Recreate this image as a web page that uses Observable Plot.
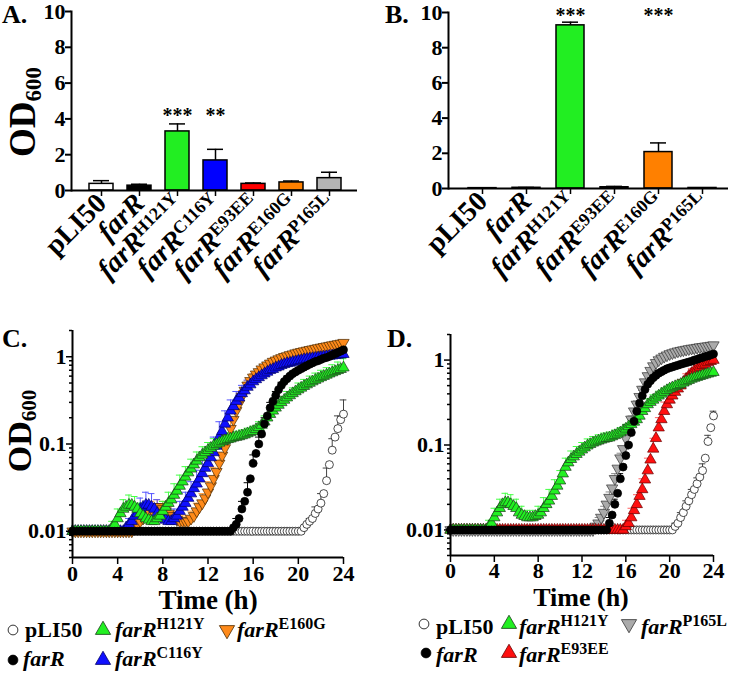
<!DOCTYPE html>
<html><head><meta charset="utf-8">
<script src="https://cdn.jsdelivr.net/npm/d3@7"></script>
<script src="https://cdn.jsdelivr.net/npm/@observablehq/plot@0.6"></script>
<style>
body{margin:0;background:#fff;}
#root{position:relative;width:733px;height:675px;overflow:hidden;font-family:"Liberation Serif","Times New Roman",serif;font-weight:bold;color:#000;}
#root > svg{position:absolute;}
</style></head><body><div id="root"></div><script>
// ---------- Bar data ----------
const catsA = ["pLI50","farR","farR|H121Y","farR|C116Y","farR|E93EE","farR|E160G","farR|P165L"];
const meanA = [0.37,0.27,3.3,1.68,0.37,0.45,0.69];
const sdA   = [0.18,0.08,0.42,0.62,0.05,0.08,0.33];
const sigA  = ["","","***","**","","",""];
const sigYA = 4.2;
const catsB = ["pLI50","farR","farR|H121Y","farR|E93EE","farR|E160G","farR|P165L"];
const meanB = [0.02,0.04,9.27,0.07,2.07,0.03];
const sdB   = [0.01,0.02,0.18,0.05,0.52,0.01];
const sigB  = ["","","***","","***",""];
const sigYB = 9.8;
const barTicks = [0,2,4,6,8,10];
// ---------- Growth data: OD600 every 0.25 h (0..24 h); SD every 0.5 h ----------
const times = d3.range(0, 24.001, 0.25);
const errTimes = d3.range(0, 24.001, 0.5);
const timeTicks = [0,4,8,12,16,20,24];
const majorTicks = [0.01,0.1,1];
const minorTicks = [0.005,0.006,0.007,0.008,0.009,0.02,0.03,0.04,0.05,0.06,0.07,0.08,0.09,0.2,0.3,0.4,0.5,0.6,0.7,0.8,0.9,2];

const cPLI50 = [
 0.01,0.01,0.01,0.01,0.01,0.01,0.01,0.01,
 0.01,0.01,0.01,0.01,0.01,0.01,0.01,0.01,
 0.01,0.01,0.01,0.01,0.01,0.01,0.01,0.01,
 0.01,0.01,0.01,0.01,0.01,0.01,0.01,0.01,
 0.01,0.01,0.01,0.01,0.01,0.01,0.01,0.01,
 0.01,0.01,0.01,0.01,0.01,0.01,0.01,0.01,
 0.01,0.01,0.01,0.01,0.01,0.01,0.01,0.01,
 0.01,0.01,0.01,0.01,0.01,0.01,0.01,0.01,
 0.01,0.01,0.01,0.01,0.01,0.01,0.01,0.01,
 0.01,0.01,0.01,0.01,0.01,0.01,0.01,0.01,
 0.01,0.01,0.011,0.012,0.013,0.014,0.016,0.018,
 0.021,0.027,0.038,0.058,0.085,0.12,0.15,0.19,
 0.22];
const cPLI50Err = [
 0,0,0,0,0,0,0,0,0,0,
 0,0,0,0,0,0,0,0,0,0,
 0,0,0,0,0,0,0,0,0,0,
 0,0,0,0,0,0,0,0,0,0,
 0,0,0.001,0.003,0.006,0.015,0.03,0.06,0.1];
const cFarR = [
 0.01,0.01,0.01,0.01,0.01,0.01,0.01,0.01,
 0.01,0.01,0.01,0.01,0.01,0.01,0.01,0.01,
 0.01,0.01,0.01,0.01,0.01,0.01,0.01,0.01,
 0.01,0.01,0.01,0.01,0.01,0.01,0.01,0.01,
 0.01,0.01,0.01,0.01,0.01,0.01,0.01,0.01,
 0.01,0.01,0.01,0.01,0.01,0.01,0.01,0.01,
 0.01,0.01,0.01,0.01,0.01,0.01,0.01,0.01,
 0.01,0.011,0.012,0.014,0.018,0.022,0.028,0.04,
 0.06,0.078,0.1,0.13,0.17,0.21,0.26,0.31,
 0.36,0.42,0.47,0.52,0.56,0.6,0.64,0.67,
 0.7,0.73,0.76,0.79,0.82,0.85,0.88,0.9,
 0.93,0.96,0.98,1.01,1.05,1.08,1.12,1.16,
 1.2];
const cFarRErr = [
 0,0,0,0,0,0,0,0,0,0,
 0,0,0,0,0,0,0,0,0,0,
 0,0,0,0,0,0,0,0,0,0.002,
 0.004,0.008,0.015,0.02,0.03,0.04,0.04,0.04,0.04,0.04,
 0.04,0.04,0.04,0.04,0.04,0.04,0.05,0.05,0.05];
const cH121Y = [
 0.01,0.01,0.01,0.01,0.01,0.01,0.01,0.01,
 0.01,0.01,0.01,0.01,0.01,0.01,0.011,0.012,
 0.014,0.016,0.018,0.019,0.02,0.02,0.019,0.018,
 0.016,0.015,0.014,0.0135,0.013,0.013,0.014,0.015,
 0.017,0.019,0.021,0.023,0.026,0.029,0.033,0.037,
 0.042,0.047,0.052,0.058,0.064,0.07,0.075,0.08,
 0.085,0.09,0.095,0.099,0.103,0.107,0.11,0.113,
 0.115,0.118,0.12,0.122,0.125,0.128,0.132,0.136,
 0.14,0.147,0.155,0.165,0.18,0.2,0.22,0.24,
 0.26,0.28,0.3,0.32,0.34,0.36,0.38,0.4,
 0.42,0.44,0.46,0.48,0.5,0.52,0.54,0.56,
 0.58,0.6,0.62,0.64,0.66,0.68,0.7,0.72,
 0.75];
const cH121YErr = [
 0,0,0,0,0,0,0,0.002,0.004,0.005,
 0.006,0.006,0.005,0.004,0.004,0.004,0.005,0.007,0.009,0.011,
 0.013,0.015,0.017,0.018,0.019,0.02,0.02,0.02,0.02,0.02,
 0.02,0.02,0.02,0.025,0.03,0.04,0.05,0.05,0.06,0.06,
 0.08,0.09,0.1,0.11,0.12,0.13,0.15,0.17,0.2];
const cC116Y = [
 0.01,0.01,0.01,0.01,0.01,0.01,0.01,0.01,
 0.01,0.01,0.01,0.01,0.01,0.01,0.01,0.01,
 0.01,0.01,0.01,0.011,0.012,0.013,0.015,0.016,
 0.018,0.019,0.02,0.02,0.019,0.018,0.016,0.015,
 0.014,0.0135,0.013,0.013,0.014,0.015,0.017,0.019,
 0.021,0.024,0.027,0.031,0.035,0.04,0.046,0.053,
 0.06,0.07,0.08,0.095,0.12,0.14,0.17,0.2,
 0.24,0.27,0.31,0.34,0.38,0.41,0.45,0.48,
 0.52,0.55,0.58,0.61,0.64,0.67,0.7,0.72,
 0.75,0.77,0.8,0.82,0.84,0.85,0.87,0.88,
 0.9,0.91,0.93,0.94,0.95,0.96,0.97,0.98,
 0.99,1.0,1.01,1.02,1.03,1.04,1.05,1.06,
 1.07];
const cC116YErr = [
 0,0,0,0,0,0,0,0,0,0,
 0.002,0.004,0.006,0.008,0.008,0.007,0.005,0.004,0.004,0.005,
 0.007,0.01,0.015,0.02,0.03,0.04,0.06,0.07,0.08,0.09,
 0.09,0.09,0.09,0.08,0.08,0.07,0.07,0.06,0.06,0.06,
 0.06,0.06,0.06,0.06,0.06,0.06,0.06,0.06,0.06];
const cE160G = [
 0.01,0.01,0.01,0.01,0.01,0.01,0.01,0.01,
 0.01,0.01,0.01,0.01,0.01,0.01,0.01,0.01,
 0.01,0.01,0.01,0.01,0.01,0.01,0.011,0.012,
 0.013,0.014,0.016,0.017,0.018,0.019,0.019,0.019,
 0.018,0.017,0.016,0.015,0.014,0.0135,0.013,0.013,
 0.013,0.013,0.014,0.015,0.017,0.019,0.021,0.024,
 0.028,0.033,0.04,0.048,0.06,0.074,0.09,0.115,
 0.15,0.19,0.24,0.29,0.35,0.41,0.47,0.53,
 0.58,0.63,0.67,0.72,0.76,0.8,0.84,0.88,
 0.91,0.94,0.97,1.0,1.02,1.05,1.07,1.1,
 1.12,1.14,1.16,1.18,1.2,1.22,1.24,1.26,
 1.28,1.3,1.32,1.34,1.36,1.38,1.4,1.42,
 1.45];
const cE160GErr = [
 0,0,0,0,0,0,0,0,0,0,
 0,0.001,0.002,0.003,0.004,0.004,0.004,0.003,0.003,0.002,
 0.002,0.003,0.004,0.006,0.009,0.014,0.02,0.03,0.04,0.05,
 0.06,0.06,0.06,0.05,0.05,0.05,0.05,0.05,0.05,0.05,
 0.05,0.05,0.05,0.05,0.05,0.05,0.05,0.05,0.05];

const dPLI50 = [
 0.01,0.01,0.01,0.01,0.01,0.01,0.01,0.01,
 0.01,0.01,0.01,0.01,0.01,0.01,0.01,0.01,
 0.01,0.01,0.01,0.01,0.01,0.01,0.01,0.01,
 0.01,0.01,0.01,0.01,0.01,0.01,0.01,0.01,
 0.01,0.01,0.01,0.01,0.01,0.01,0.01,0.01,
 0.01,0.01,0.01,0.01,0.01,0.01,0.01,0.01,
 0.01,0.01,0.01,0.01,0.01,0.01,0.01,0.01,
 0.01,0.01,0.01,0.01,0.01,0.01,0.01,0.01,
 0.01,0.01,0.01,0.01,0.01,0.01,0.01,0.01,
 0.01,0.01,0.01,0.01,0.01,0.01,0.01,0.01,
 0.01,0.01,0.011,0.012,0.014,0.016,0.019,0.022,
 0.026,0.03,0.035,0.042,0.05,0.07,0.11,0.16,
 0.22];
const dPLI50Err = [
 0,0,0,0,0,0,0,0,0,0,
 0,0,0,0,0,0,0,0,0,0,
 0,0,0,0,0,0,0,0,0,0,
 0,0,0,0,0,0,0,0,0,0,
 0,0.001,0.002,0.003,0.004,0.006,0.01,0.02,0.03];
const dFarR = [
 0.01,0.01,0.01,0.01,0.01,0.01,0.01,0.01,
 0.01,0.01,0.01,0.01,0.01,0.01,0.01,0.01,
 0.01,0.01,0.01,0.01,0.01,0.01,0.01,0.01,
 0.01,0.01,0.01,0.01,0.01,0.01,0.01,0.01,
 0.01,0.01,0.01,0.01,0.01,0.01,0.01,0.01,
 0.01,0.01,0.01,0.01,0.01,0.01,0.01,0.01,
 0.01,0.01,0.01,0.01,0.01,0.01,0.01,0.01,
 0.01,0.01,0.012,0.015,0.02,0.027,0.04,0.055,
 0.075,0.1,0.14,0.19,0.25,0.31,0.38,0.45,
 0.52,0.57,0.62,0.66,0.7,0.73,0.76,0.79,
 0.81,0.83,0.85,0.87,0.89,0.91,0.93,0.95,
 0.97,1.0,1.02,1.05,1.07,1.1,1.12,1.15,
 1.18];
const dFarRErr = [
 0,0,0,0,0,0,0,0,0,0,
 0,0,0,0,0,0,0,0,0,0,
 0,0,0,0,0,0,0,0,0,0.002,
 0.003,0.006,0.015,0.03,0.05,0.06,0.06,0.05,0.05,0.05,
 0.05,0.05,0.05,0.05,0.05,0.05,0.05,0.05,0.05];
const dH121Y = [
 0.01,0.01,0.01,0.01,0.01,0.01,0.01,0.01,
 0.01,0.01,0.01,0.01,0.01,0.01,0.011,0.012,
 0.014,0.016,0.018,0.02,0.021,0.021,0.02,0.019,
 0.018,0.016,0.015,0.0145,0.014,0.014,0.014,0.0145,
 0.015,0.016,0.018,0.02,0.022,0.025,0.029,0.033,
 0.038,0.046,0.055,0.062,0.068,0.073,0.078,0.083,
 0.088,0.093,0.098,0.102,0.106,0.109,0.112,0.115,
 0.118,0.12,0.122,0.126,0.13,0.135,0.14,0.147,
 0.155,0.165,0.175,0.187,0.2,0.22,0.25,0.27,
 0.3,0.32,0.34,0.36,0.38,0.4,0.42,0.44,
 0.46,0.475,0.49,0.505,0.52,0.54,0.56,0.58,
 0.6,0.615,0.63,0.645,0.66,0.675,0.69,0.705,
 0.72];
const dH121YErr = [
 0,0,0,0,0,0,0,0.002,0.004,0.005,
 0.006,0.006,0.005,0.004,0.003,0.003,0.004,0.006,0.008,0.01,
 0.012,0.015,0.017,0.018,0.019,0.02,0.02,0.02,0.02,0.02,
 0.02,0.02,0.02,0.025,0.03,0.04,0.05,0.05,0.05,0.05,
 0.05,0.05,0.05,0.05,0.05,0.05,0.05,0.05,0.05];
const dE93EE = [
 0.01,0.01,0.01,0.01,0.01,0.01,0.01,0.01,
 0.01,0.01,0.01,0.01,0.01,0.01,0.01,0.01,
 0.01,0.01,0.01,0.01,0.01,0.01,0.01,0.01,
 0.01,0.01,0.01,0.01,0.01,0.01,0.01,0.01,
 0.01,0.01,0.01,0.01,0.01,0.01,0.01,0.01,
 0.01,0.01,0.01,0.01,0.01,0.01,0.01,0.01,
 0.01,0.01,0.01,0.01,0.01,0.01,0.01,0.01,
 0.01,0.01,0.01,0.01,0.01,0.01,0.01,0.01,
 0.011,0.012,0.014,0.017,0.02,0.025,0.03,0.039,
 0.05,0.067,0.09,0.12,0.16,0.2,0.25,0.3,
 0.34,0.38,0.42,0.46,0.5,0.55,0.6,0.65,
 0.7,0.75,0.79,0.83,0.87,0.9,0.94,0.97,
 1.0];
const dE93EEErr = [
 0,0,0,0,0,0,0,0,0,0,
 0,0,0,0,0,0,0,0,0,0,
 0,0,0,0,0,0,0,0,0,0,
 0,0,0.002,0.004,0.006,0.01,0.02,0.03,0.05,0.07,
 0.08,0.09,0.09,0.09,0.09,0.08,0.08,0.08,0.08];
const dP165L = [
 0.01,0.01,0.01,0.01,0.01,0.01,0.01,0.01,
 0.01,0.01,0.01,0.01,0.01,0.01,0.01,0.01,
 0.01,0.01,0.01,0.01,0.01,0.01,0.01,0.01,
 0.01,0.01,0.01,0.01,0.01,0.01,0.01,0.01,
 0.01,0.01,0.01,0.01,0.01,0.01,0.01,0.01,
 0.01,0.01,0.01,0.01,0.01,0.01,0.01,0.01,
 0.01,0.01,0.01,0.01,0.01,0.011,0.012,0.014,
 0.016,0.02,0.024,0.031,0.04,0.053,0.07,0.09,
 0.12,0.16,0.2,0.25,0.3,0.37,0.45,0.55,
 0.65,0.75,0.85,0.93,1.0,1.05,1.1,1.14,
 1.18,1.21,1.24,1.27,1.29,1.31,1.33,1.35,
 1.37,1.38,1.4,1.42,1.43,1.45,1.46,1.48,
 1.5];
const dP165LErr = [
 0,0,0,0,0,0,0,0,0,0,
 0,0,0,0,0,0,0,0,0,0,
 0,0,0,0,0,0,0,0.002,0.003,0.004,
 0.006,0.01,0.015,0.02,0.03,0.04,0.05,0.05,0.05,0.05,
 0.05,0.05,0.05,0.05,0.05,0.05,0.05,0.05,0.05];

// ---------- Styles ----------
const FONT = '"Liberation Serif","Times New Roman",serif';
const triDown = {draw(ctx, size){const y=-Math.sqrt(size/(Math.sqrt(3)*3));ctx.moveTo(0,-y*2);ctx.lineTo(-Math.sqrt(3)*y,y);ctx.lineTo(Math.sqrt(3)*y,y);ctx.closePath();}};
const barColor = {"pLI50":"#ffffff","farR":"#000000","farR|H121Y":"#22ee22","farR|C116Y":"#0000ff","farR|E93EE":"#ff0000","farR|E160G":"#ff8000","farR|P165L":"#b4b4b4"};
const styleOf = {
 "pLI50":{symbol:"circle",d3sym:d3.symbolCircle,fill:"#ffffff",stroke:"#000",err:"#444",r:4.0},
 "farR":{symbol:"circle",d3sym:d3.symbolCircle,fill:"#000000",stroke:"#000",err:"#000",r:4.0},
 "farR|H121Y":{symbol:"triangle",d3sym:d3.symbolTriangle,fill:"#22f022",stroke:"#1b3b1b",err:"#44ff44",r:4.2},
 "farR|C116Y":{symbol:"triangle",d3sym:d3.symbolTriangle,fill:"#1010ff",stroke:"#000066",err:"#5555ff",r:4.2},
 "farR|E160G":{symbol:triDown,d3sym:triDown,fill:"#ff8a1a",stroke:"#4a2a00",err:"#ffa040",r:4.2},
 "farR|E93EE":{symbol:"triangle",d3sym:d3.symbolTriangle,fill:"#ff1010",stroke:"#660000",err:"#ff6060",r:4.2},
 "farR|P165L":{symbol:triDown,d3sym:triDown,fill:"#aaaaaa",stroke:"#333",err:"#888",r:4.2}
};
const baseStyle = {fontFamily:FONT,fontWeight:"bold",color:"#000",background:"none",overflow:"visible"};

function fixText(svg){
  const s = d3.select(svg);
  s.selectAll("g").attr("font-variant", null);
  s.selectAll("text").each(function(){
    const sel = d3.select(this);
    if (sel.attr("font-family") === "Liberation Sans") return;
    sel.attr("font-family", FONT).attr("font-weight","bold").style("font-variant","normal");
    const txt = this.textContent;
    if (txt.startsWith("farR")) {
      const [base, sup] = txt.split("|");
      sel.text(null);
      sel.append("tspan").attr("font-style","italic").text(base);
      if (sup) sel.append("tspan").attr("font-size","0.64em").attr("dy","-0.45em").text(sup);
    }
  });
}

function barPanel(cats, mean, sd, sig, sigY, o){
  const rows = cats.map((c,i)=>({cat:c, mean:mean[i], top:mean[i]+sd[i], sig:sig[i]}));
  const svg = Plot.plot({
    width:o.width, height:o.height, marginLeft:o.ml, marginRight:o.mr, marginTop:o.mt, marginBottom:o.mb,
    style:baseStyle,
    x:{type:"band", domain:cats, range:o.range, paddingInner:o.pi, paddingOuter:0},
    y:{domain:[0,10]},
    color:{type:"identity"},
    marks:[
      Plot.ruleX(rows,{x:"cat", y1:"mean", y2:"top", strokeWidth:1.5}),
      Plot.tickY(rows,{x:"cat", y:"top", strokeWidth:1.5, insetLeft:o.cap, insetRight:o.cap}),
      Plot.barY(rows,{x:"cat", y:"mean", fill:d=>barColor[d.cat], stroke:"#000", strokeWidth:1.5}),
      Plot.text(rows.filter(d=>d.sig),{x:"cat", y:()=>sigY, text:"sig", fontSize:20, fontWeight:"normal", fontFamily:"Liberation Sans"}),
      Plot.ruleY([0],{strokeWidth:2}),
      Plot.frame({anchor:"left", strokeWidth:2}),
      Plot.axisY({ticks:barTicks, tickSize:6, tickPadding:0, fontSize:22, label:null, strokeWidth:2}),
      Plot.axisX({tickSize:6, tickPadding:2, tickRotate:-45, fontSize:28, label:null, strokeWidth:1.5})
    ]
  });
  fixText(svg);
  return svg;
}

function growthPanel(series, o){
  const pts = series.flatMap(s => s.v.map((v,i)=>({name:s.name, t:times[i], v})));
  const errPts = series.flatMap(s => s.e.map((e,i)=>({name:s.name, t:errTimes[i], v:s.v[i*2], top:s.v[i*2]+e, e}))).filter(d=>d.e>0);
  const svg = Plot.plot({
    width:o.width, height:o.height, marginLeft:o.ml, marginRight:o.mr, marginTop:o.mt, marginBottom:o.mb,
    style:baseStyle,
    x:{domain:[0,24]},
    y:{type:"log", domain:[0.005,2]},
    color:{type:"identity"},
    marks:[
      Plot.ruleX(errPts,{x:"t", y1:"v", y2:"top", stroke:d=>styleOf[d.name].err, strokeWidth:1}),
      Plot.ruleY(errPts,{y:"top", x1:d=>d.t-0.3, x2:d=>d.t+0.3, stroke:d=>styleOf[d.name].err, strokeWidth:1}),
      ...series.map(s=>{const st=styleOf[s.name];
        return Plot.dot(pts.filter(d=>d.name===s.name),{x:"t", y:"v", symbol:st.symbol, r:st.r, fill:st.fill, stroke:st.stroke, strokeWidth:0.7});}),
      Plot.ruleX([0],{strokeWidth:2}),
      Plot.ruleY([0.005],{strokeWidth:2}),
      Plot.axisY({ticks:minorTicks, tickSize:3, tickFormat:()=>"", label:null, strokeWidth:1.5}),
      Plot.axisY({ticks:majorTicks, tickSize:6, tickPadding:0, tickFormat:d=>String(d), fontSize:22, label:null, strokeWidth:1.5}),
      Plot.axisX({ticks:timeTicks, tickSize:7, tickPadding:o.tp, fontSize:22, label:null, strokeWidth:1.5})
    ]
  });
  fixText(svg);
  return svg;
}

const root = document.getElementById("root");
function place(svg, left, top){ svg.style.left = left+"px"; svg.style.top = top+"px"; root.appendChild(svg); }

place(barPanel(catsA, meanA, sdA, sigA, sigYA, {width:366,height:310,ml:71,mr:9,mt:11,mb:120,range:[87,342],pi:0.377,cap:4}), 0, 0);
place(barPanel(catsB, meanB, sdB, sigB, sigYB, {width:367,height:310,ml:82,mr:5,mt:12,mb:122,range:[101,350],pi:0.3665,cap:6}), 366, 0);

const seriesC = [
  {name:"pLI50", v:cPLI50, e:cPLI50Err},
  {name:"farR|E160G", v:cE160G, e:cE160GErr},
  {name:"farR|C116Y", v:cC116Y, e:cC116YErr},
  {name:"farR|H121Y", v:cH121Y, e:cH121YErr},
  {name:"farR", v:cFarR, e:cFarRErr}
];
const seriesD = [
  {name:"pLI50", v:dPLI50, e:dPLI50Err},
  {name:"farR|P165L", v:dP165L, e:dP165LErr},
  {name:"farR|E93EE", v:dE93EE, e:dE93EEErr},
  {name:"farR|H121Y", v:dH121Y, e:dH121YErr},
  {name:"farR", v:dFarR, e:dFarRErr}
];
place(growthPanel(seriesC, {width:366,height:280,ml:72,mr:23,mt:10,mb:43,tp:1}), 0, 320);
place(growthPanel(seriesD, {width:367,height:280,ml:84,mr:20,mt:14,mb:45,tp:0}), 366, 320);

// ---------- Overlay: panel letters, axis titles, legends ----------
const legendC = [
  {name:"pLI50", sx:13, tx:25, sy:630, ty:637},
  {name:"farR|H121Y", sx:103, tx:115, sy:630, ty:637},
  {name:"farR|E160G", sx:227, tx:237, sy:630, ty:637},
  {name:"farR", sx:13, tx:23, sy:660, ty:666},
  {name:"farR|C116Y", sx:103, tx:115, sy:660, ty:666}
];
const legendD = [
  {name:"pLI50", sx:424, tx:436, sy:624, ty:634},
  {name:"farR|H121Y", sx:509, tx:519, sy:624, ty:634},
  {name:"farR|P165L", sx:629, tx:641, sy:624, ty:634},
  {name:"farR", sx:426, tx:436, sy:653, ty:662},
  {name:"farR|E93EE", sx:509, tx:519, sy:653, ty:662}
];
const ov = d3.select(root).append("svg").attr("width",733).attr("height",675)
  .style("left","0px").style("top","0px").style("pointer-events","none")
  .attr("font-family",FONT).attr("font-weight","bold");
[["A.",2,23],["B.",385,23],["C.",2,347],["D.",387,347]].forEach(([t,x,y])=>ov.append("text").attr("x",x).attr("y",y).attr("font-size",26).text(t));
function odLabel(x,y,size){
  const t = ov.append("text").attr("transform",`translate(${x},${y}) rotate(-90)`).attr("text-anchor","middle").attr("font-size",size);
  t.append("tspan").text("OD");
  t.append("tspan").attr("font-size",size*0.62).attr("dy",size*0.16).text("600");
}
odLabel(35,112,37);
odLabel(31,431,34);
ov.append("text").attr("x",208).attr("y",609).attr("text-anchor","middle").attr("font-size",27).text("Time (h)");
ov.append("text").attr("x",581).attr("y",606).attr("text-anchor","middle").attr("font-size",26).text("Time (h)");
function legend(items){
  items.forEach(it=>{
    const st = styleOf[it.name];
    const big = st.symbol==="circle" ? 75 : 100;
    ov.append("path").attr("d", d3.symbol(st.d3sym, big)()).attr("transform",`translate(${it.sx},${it.sy})`)
      .attr("fill",st.fill).attr("stroke", it.name==="pLI50" ? "#000" : st.stroke).attr("stroke-width",0.8);
    const t = ov.append("text").attr("x",it.tx).attr("y",it.ty).attr("font-size",22);
    const [base, sup] = it.name.split("|");
    t.append("tspan").attr("font-style", base==="farR" ? "italic" : "normal").text(base);
    if (sup) t.append("tspan").attr("font-size",16).attr("dy",-8).text(sup);
  });
}
legend(legendC);
legend(legendD);
</script></body></html>
